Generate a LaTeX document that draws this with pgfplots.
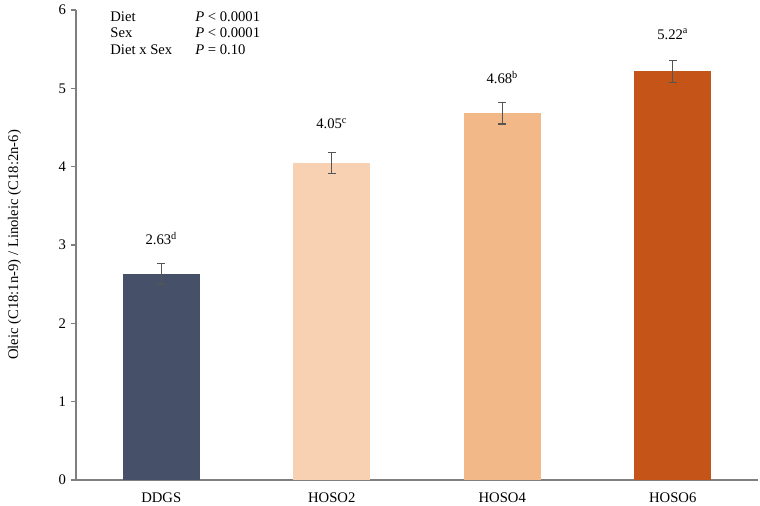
\documentclass[border=0pt]{standalone}
\usepackage{fontspec}
\setmainfont{Liberation Serif}
\usepackage{pgfplots}
\pgfplotsset{compat=1.18}
\definecolor{cA}{HTML}{465069}
\definecolor{cB}{HTML}{F8D1B3}
\definecolor{cC}{HTML}{F3B888}
\definecolor{cD}{HTML}{C55419}
\definecolor{axgray}{HTML}{7F7F7F}
\definecolor{errgray}{HTML}{555555}
\begin{document}
\begin{tikzpicture}
\begin{axis}[
  scale only axis, width=511.5pt, height=352.5pt,
  xmin=-0.5, xmax=3.5, ymin=0, ymax=6,
  axis x line=bottom, axis y line=left,
  axis line style={-, draw=axgray, line width=0.9pt},
  xtick={0,1,2,3}, xticklabels={DDGS,HOSO2,HOSO4,HOSO6},
  x tick style={draw=none},
  ytick={0,1,2,3,4,5,6},
  y tick style={draw=axgray, line width=0.8pt},
  tick align=outside, major tick length=4pt,
  ticklabel style={font=\fontsize{11}{13}\selectfont},
  /pgf/number format/assume math mode=true,
  xticklabel style={yshift=-2pt},
  ylabel={Oleic (C18:1n-9) / Linoleic (C18:2n-6)},
  every axis y label/.style={at={(axis description cs:-0.09,0.5)}, rotate=90, anchor=center, font=\fontsize{11}{13}\selectfont},
  clip=false,
  error bars/error bar style={draw=errgray, line width=0.8pt},
  error bars/error mark options={rotate=90, mark size=3pt, draw=errgray, line width=0.8pt},
]
\addplot[ybar, bar width=0.45, bar shift=0pt, fill=cA, draw=none,
  error bars/.cd, y dir=both, y explicit] coordinates {(0,2.63) +- (0,0.13)};
\addplot[ybar, bar width=0.45, bar shift=0pt, fill=cB, draw=none,
  error bars/.cd, y dir=both, y explicit] coordinates {(1,4.05) +- (0,0.135)};
\addplot[ybar, bar width=0.45, bar shift=0pt, fill=cC, draw=none,
  error bars/.cd, y dir=both, y explicit] coordinates {(2,4.68) +- (0,0.135)};
\addplot[ybar, bar width=0.45, bar shift=0pt, fill=cD, draw=none,
  error bars/.cd, y dir=both, y explicit] coordinates {(3,5.22) +- (0,0.14)};
\node[font=\fontsize{11}{13}\selectfont] at (axis cs:0,3.08) {2.63\textsuperscript{d}};
\node[font=\fontsize{11}{13}\selectfont] at (axis cs:1,4.55) {4.05\textsuperscript{c}};
\node[font=\fontsize{11}{13}\selectfont] at (axis cs:2,5.14) {4.68\textsuperscript{b}};
\node[font=\fontsize{11}{13}\selectfont] at (axis cs:3,5.69) {5.22\textsuperscript{a}};
\node[anchor=west, font=\fontsize{11}{13}\selectfont, inner sep=0pt] at (axis cs:-0.30,5.92) {Diet};
\node[anchor=west, font=\fontsize{11}{13}\selectfont, inner sep=0pt] at (axis cs:-0.30,5.705) {Sex};
\node[anchor=west, font=\fontsize{11}{13}\selectfont, inner sep=0pt] at (axis cs:-0.30,5.49) {Diet x Sex};
\node[anchor=west, font=\fontsize{11}{13}\selectfont, inner sep=0pt] at (axis cs:0.198,5.92) {\textit{P} < 0.0001};
\node[anchor=west, font=\fontsize{11}{13}\selectfont, inner sep=0pt] at (axis cs:0.198,5.705) {\textit{P} < 0.0001};
\node[anchor=west, font=\fontsize{11}{13}\selectfont, inner sep=0pt] at (axis cs:0.198,5.49) {\textit{P} = 0.10};
\end{axis}
\pgfresetboundingbox
\path[use as bounding box] (-57pt,-19.5pt) rectangle (513pt,360pt);
\end{tikzpicture}
\end{document}
